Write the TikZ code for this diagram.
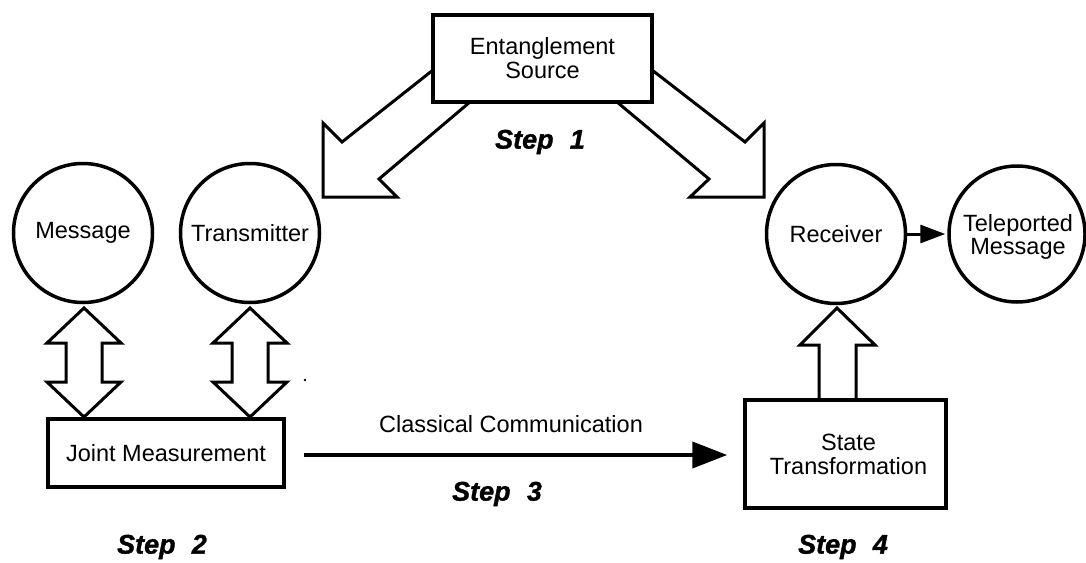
\documentclass[tikz,border=0pt]{standalone}
\usepackage{fontspec}
\setmainfont{Liberation Sans}
\newfontface\stepfont{Liberation Sans Bold Italic}[FakeBold=1.2]
\usetikzlibrary{arrows.meta}
\begin{document}
\begin{tikzpicture}[x=1pt,y=-1pt,
  lbl/.style={font=\fontsize{23.5}{24}\selectfont, align=center},
  boxnode/.style={draw, line width=3.5pt, fill=white, inner sep=0pt, lbl},
  circnode/.style={draw, circle, line width=3.5pt, minimum size=139pt, inner sep=0pt, lbl},
  blockarrow/.style={draw, line width=3pt, line join=miter, fill=white},
  steplabel/.style={font=\fontsize{27}{28}\stepfont},
  classarrow/.style={line width=4pt, -{Triangle[length=35pt,width=26pt]}},
  smallarrow/.style={line width=3pt, -{Triangle[length=25pt,width=18pt]}}
]
\useasboundingbox[fill=white] (0,0) rectangle (1086,562);

% block arrows from the entanglement source
\draw[blockarrow] (433,70) -- (342,142) -- (323,123) -- (323,197) -- (397,197) -- (379,179) -- (470,102);
\draw[blockarrow] (652,70) -- (745,142) -- (764,123) -- (764,197) -- (690,197) -- (709,179) -- (617,102);

% double arrows
\draw[blockarrow] (84,308) -- (121,343) -- (102,343) -- (102,382) -- (121,382) -- (84,417) -- (47,382) -- (66,382) -- (66,343) -- (47,343) -- cycle;
\draw[blockarrow] (250,308) -- (287,343) -- (268,343) -- (268,382) -- (287,382) -- (250,417) -- (213,382) -- (232,382) -- (232,343) -- (213,343) -- cycle;

% up arrow to receiver
\draw[blockarrow] (819,400) -- (819,345) -- (800,345) -- (837,308) -- (875,345) -- (856,345) -- (856,400);

% nodes
\node[boxnode, minimum width=219pt, minimum height=87pt] (src) at (542.5,58.5) {Entanglement\\Source};
\node[circnode] (msg) at (83,233) {Message};
\node[circnode] (tx) at (250,233) {Transmitter};
\node[circnode] (rx) at (836,234) {Receiver};
\node[circnode, minimum size=136pt] (tm) at (1017,234) {};
\node[lbl, font=\fontsize{23.5}{23}\selectfont] (tmt) at (1018,237) {Teleported\\Message};
\node[boxnode, minimum width=236pt, minimum height=68pt] (jm) at (166,453) {Joint Measurement};
\node[boxnode, minimum width=201pt, minimum height=108pt] (st) at (845.5,454) {\hspace*{6pt}State\\\hspace*{6pt}Transformation};

% connectors
\draw[classarrow, shorten <=18pt, shorten >=16pt] (jm.east |- 0,455) -- (st.west |- 0,455);
\draw[smallarrow, shorten >=2pt] (rx.east) -- (tm.west);

% labels
\node[lbl] (cc) at (511,424) {Classical Communication};
\node[steplabel] (s1) at (540,142) {Step\hspace{0.6em}1};
\node[steplabel] (s2) at (162,547) {Step\hspace{0.6em}2};
\node[steplabel] (s3) at (497,494) {Step\hspace{0.6em}3};
\node[steplabel] (s4) at (843,547) {Step\hspace{0.6em}4};

% small dot
\fill (305,380) circle (1.3pt);
\end{tikzpicture}
\end{document}
